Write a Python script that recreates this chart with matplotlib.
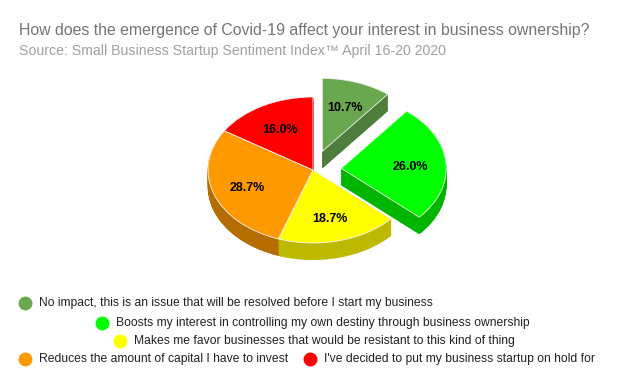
import matplotlib
matplotlib.use("Agg")
import matplotlib.pyplot as plt
import numpy as np

plt.rcParams['font.family'] = ['Liberation Sans', 'DejaVu Sans']

categories = [
    "No impact, this is an issue that will be resolved before I start my business",
    "Boosts my interest in controlling my own destiny through business ownership",
    "Makes me favor businesses that would be resistant to this kind of thing",
    "Reduces the amount of capital I have to invest",
    "I've decided to put my business startup on hold for",
]
values = [10.7, 26.0, 18.7, 28.7, 16.0]
top_colors = ['#6aa84f', '#00ff00', '#ffff00', '#ff9900', '#ff0000']
side_colors = ['#4f7d3b', '#00b400', '#bdb800', '#b56c00', '#b40000']
explode = [0.27, 0.27, 0, 0, 0]
title = "How does the emergence of Covid-19 affect your interest in business ownership?"
subtitle = "Source: Small Business Startup Sentiment Index\u2122 April 16-20 2020"

W, H = 629, 385
fig = plt.figure(figsize=(W / 100, H / 100), dpi=100)
fig.patch.set_facecolor('white')

cx, cy, rx, ry = 313, 170, 105, 73
lim = 1.6
ax = fig.add_axes([(cx - lim * rx) / W, (H - cy - lim * ry) / H,
                   2 * lim * rx / W, 2 * lim * ry / H])
depth = 0.23
for t in np.linspace(depth, 0.005, 30):
    ax.pie(values, explode=explode, colors=side_colors, startangle=90,
           counterclock=False, center=(0, -t),
           wedgeprops=dict(linewidth=0.3))
for w in ax.patches:
    w.set_edgecolor(w.get_facecolor())

wedges, texts, autotexts = ax.pie(
    values, explode=explode, colors=top_colors, startangle=90,
    counterclock=False, autopct=lambda p: f'{p:.1f}%', pctdistance=0.66,
    wedgeprops=dict(edgecolor='#f4f4f4', linewidth=0.6),
    textprops=dict(fontsize=9, fontweight='bold', color='black'))
for at in autotexts:
    x, y = at.get_position()
    at.set_position((x, y - 0.03))
ax.set_aspect('auto')
ax.set_xlim(-lim, lim)
ax.set_ylim(-lim, lim)
ax.axis('off')

ov = fig.add_axes([0, 0, 1, 1])
ov.set_xlim(0, W)
ov.set_ylim(H, 0)
ov.axis('off')
ov.patch.set_alpha(0)

ov.text(19, 30, title, fontsize=11.4, color='#757575', va='center', ha='left')
ov.text(19, 51, subtitle, fontsize=10.2, color='#a0a0a0', va='center', ha='left')

legend_pos = [(25, 303), (102, 323), (120, 341), (25, 359), (310, 359)]
for (x, y), lab, col in zip(legend_pos, categories, top_colors):
    ov.plot([x], [y], marker='o', markersize=9, color=col, linestyle='none')
    ov.text(x + 14, y, lab, fontsize=8.7, color='#222222', va='center', ha='left')

fig.savefig('out.png', dpi=100)
